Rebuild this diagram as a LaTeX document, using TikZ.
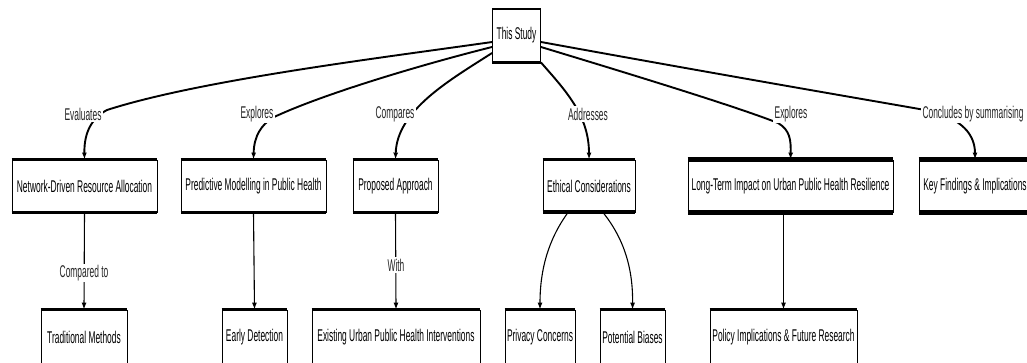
\documentclass[tikz,border=0pt]{standalone}
\usepackage{fontspec}
\setmainfont{Liberation Sans}[FakeStretch=0.495]
\usetikzlibrary{arrows.meta,calc}
\newcommand\boxfont{\fontsize{17}{19}\selectfont}
\begin{document}
\begin{tikzpicture}[x=1pt,y=1pt,
  box/.style={draw=black,line width=0.9pt,rectangle,inner sep=0pt,font=\boxfont,text=black},
  lab/.style={fill=white,inner sep=1.5pt,font=\boxfont,text=black!85},
  edge/.style={line width=1.9pt,-{Latex[length=7pt,width=5pt]}},
  vedge/.style={line width=1.1pt,-{Latex[length=7pt,width=5pt]}}]
\useasboundingbox[fill=white] (0,0) rectangle (1027,-362);
% boxes
\node[box,minimum width=48pt,minimum height=53pt] (study) at (516.5,-35.5) {This Study};
\node[box,minimum width=145pt,minimum height=52pt] (net) at (84.5,-186) {Network-Driven Resource Allocation};
\node[box,minimum width=145pt,minimum height=52pt] (pred) at (253.5,-186) {Predictive Modelling in Public Health};
\node[box,minimum width=85pt,minimum height=52pt] (prop) at (395.5,-186) {Proposed Approach};
\node[box,minimum width=92pt,minimum height=52pt] (eth) at (589,-186) {Ethical Considerations};
\node[box,minimum width=205pt,minimum height=52pt] (long) at (790.5,-186) {Long-Term Impact on Urban Public Health Resilience};
\node[box,minimum width=112pt,minimum height=52pt] (key) at (975,-186) {Key Findings \& Implications};
\node[box,minimum width=86pt,minimum height=54pt] (trad) at (84,-337) {Traditional Methods};
\node[box,minimum width=65pt,minimum height=54pt] (early) at (254.5,-337) {Early Detection};
\node[box,minimum width=168pt,minimum height=54pt] (exist) at (396,-337) {Existing Urban Public Health Interventions};
\node[box,minimum width=70pt,minimum height=54pt] (priv) at (540,-337) {Privacy Concerns};
\node[box,minimum width=65pt,minimum height=54pt] (bias) at (632.5,-337) {Potential Biases};
\node[box,minimum width=147pt,minimum height=54pt] (policy) at (783.5,-337) {Policy Implications \& Future Research};
% heavy horizontal borders
\foreach \n/\wt/\wb in {study/2/2.8, net/3/3.5, pred/3/3.5, prop/3/3.5, eth/3.8/4, long/4.2/4.2, key/4.2/4.2, trad/2.2/1, early/2.2/1, exist/2.2/1, priv/2.2/1, bias/2.2/1, policy/2.2/1}{
  \draw[line width=\wt pt] (\n.north west) -- (\n.north east);
  \draw[line width=\wb pt] (\n.south west) -- (\n.south east);
}
% edges from the study
\draw[edge] ([yshift=-6.5pt]study.west) .. controls (380,-58) and (200,-80) .. (107,-110) .. controls (92,-118) and (84,-132) .. (net.north);
\draw[edge] ([yshift=-11.5pt]study.west) .. controls (420,-65) and (320,-95) .. (272,-118) .. controls (262,-125) and (254,-135) .. (pred.north);
\draw[edge] ([yshift=-17.5pt]study.west) .. controls (450,-80) and (397,-110) .. (prop.north);
\draw[edge] (study.south east) .. controls (565,-90) and (589,-115) .. (eth.north);
\draw[edge] ([yshift=-11.5pt]study.east) .. controls (650,-80) and (740,-108) .. (778,-123) .. controls (790,-130) and (791,-140) .. (long.north);
\draw[edge] ([yshift=-6.5pt]study.east) .. controls (750,-80) and (880,-102) .. (925,-110) .. controls (955,-116) and (975,-130) .. (key.north);
% lower edges
\draw[vedge] (net.south) -- (trad.north);
\draw[vedge] (pred.south) -- (early.north);
\draw[vedge] (prop.south) -- (exist.north);
\draw[vedge] ([xshift=-21pt]eth.south) .. controls (548,-240) and (540,-270) .. (priv.north);
\draw[vedge] ([xshift=14pt]eth.south) .. controls (625,-240) and (633,-270) .. (bias.north);
\draw[vedge] (policy.north |- long.south) -- (policy.north);
% edge labels
\node[lab] (l1) at (83,-114) {Evaluates};
\node[lab] (l2) at (257,-114) {Explores};
\node[lab] (l3) at (395,-114) {Compares};
\node[lab] (l4) at (588,-114) {Addresses};
\node[lab] (l5) at (791,-114) {Explores};
\node[lab] (l6) at (973,-114) {Concludes by summarising};
\node[lab] (l7) at (84,-273) {Compared to};
\node[lab] (l8) at (396,-265) {With};
\end{tikzpicture}
\end{document}
